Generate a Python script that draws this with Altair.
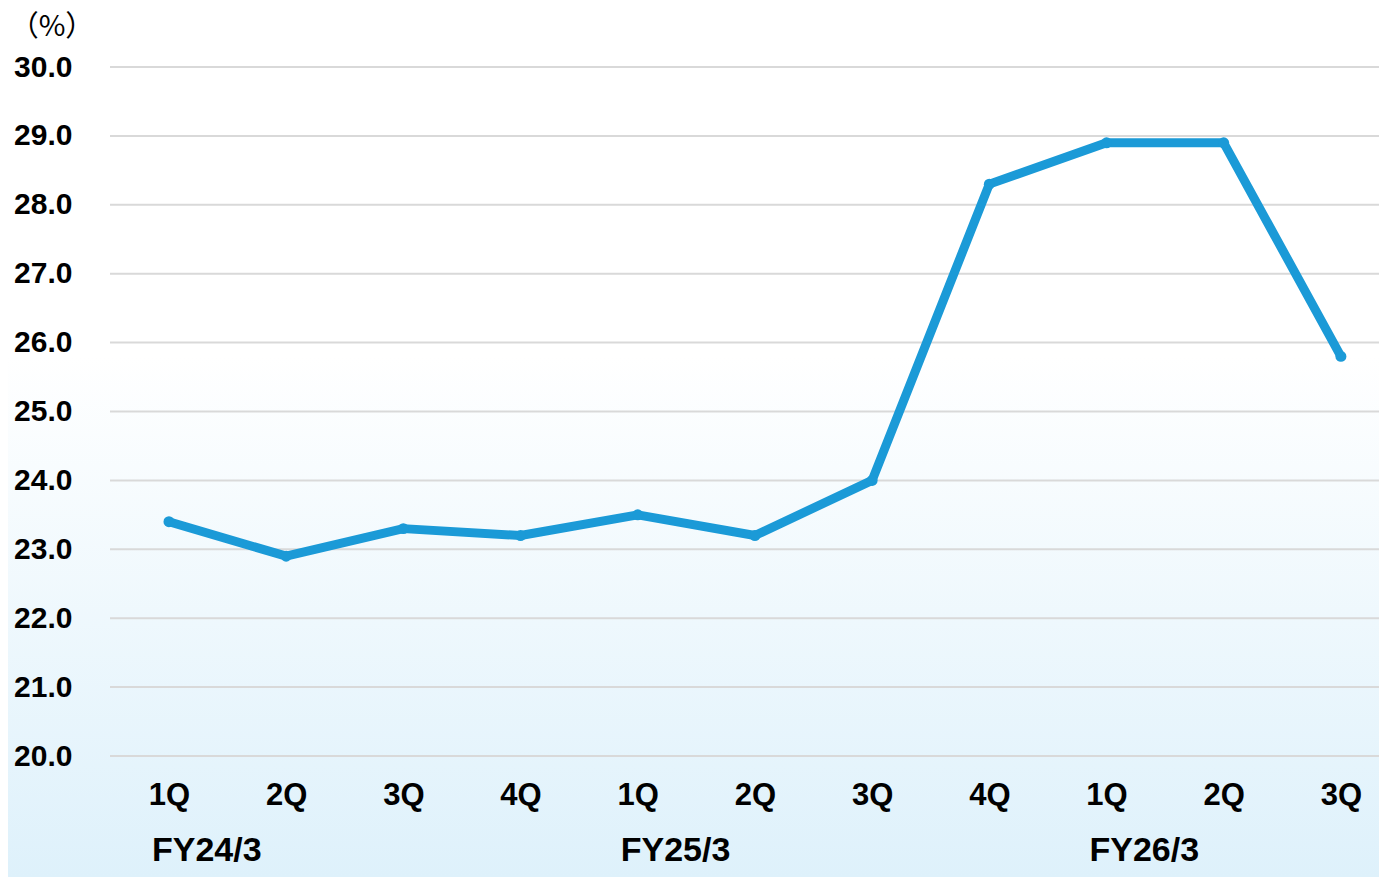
import altair as alt
import pandas as pd

quarters = ["1Q", "2Q", "3Q", "4Q", "1Q", "2Q", "3Q", "4Q", "1Q", "2Q", "3Q"]
values = [23.4, 22.9, 23.3, 23.2, 23.5, 23.2, 24.0, 28.3, 28.9, 28.9, 25.8]
fiscal_years = ["FY24/3", "FY25/3", "FY26/3"]
fy_first_index = [0, 4, 8]
y_ticks = [20, 21, 22, 23, 24, 25, 26, 27, 28, 29, 30]

df = pd.DataFrame({"i": list(range(len(values))), "q": quarters, "v": values})
fy_df = pd.DataFrame({"i": fy_first_index, "fy": fiscal_years})
grid_df = pd.DataFrame({"v": y_ticks})

W, H = 1269, 689
PL, PT, PR, PB = 102, 59, 0, 121
FONT = "Liberation Sans"
BLUE = "#1b9ad7"

label_expr = "[" + ",".join(f"'{q}'" for q in quarters) + "][datum.value]"

xscale = alt.Scale(domain=[-0.503, 10.325], nice=False, zero=False)
yscale = alt.Scale(domain=[20, 30], nice=False, zero=False)

x_axis = alt.Axis(
    values=list(range(len(values))), labelExpr=label_expr, title=None,
    grid=False, ticks=False, domain=False, labelFont=FONT, labelFontSize=31,
    labelFontWeight="bold", labelColor="#000000", labelPadding=24, zindex=1,
)
y_axis = alt.Axis(
    values=y_ticks, format=".1f", title=None, grid=False,
    ticks=False, domain=False, labelFont=FONT, labelFontSize=30,
    labelFontWeight="bold", labelColor="#000000", labelPadding=38, zindex=1,
)

bg = alt.Chart(pd.DataFrame({"a": [0]})).mark_rect(
    fill=alt.Gradient(
        gradient="linear", x1=0, y1=0, x2=0, y2=1,
        stops=[
            alt.GradientStop(offset=0, color="#ffffff"),
            alt.GradientStop(offset=0.40, color="#ffffff"),
            alt.GradientStop(offset=1, color="#def1fb"),
        ],
    )
).encode(
    x=alt.value(-PL), x2=alt.value(W + 20), y=alt.value(-PT), y2=alt.value(H + PB)
)

grid = alt.Chart(grid_df).mark_rule(color="#d9d9d9", strokeWidth=2).encode(
    y=alt.Y("v:Q", scale=yscale, axis=y_axis), x=alt.value(0), x2=alt.value(W + 10)
)

line = alt.Chart(df).mark_line(
    color=BLUE, strokeWidth=9, strokeCap="round", strokeJoin="round"
).encode(
    x=alt.X("i:Q", scale=xscale, axis=x_axis),
    y=alt.Y("v:Q", scale=yscale, axis=y_axis),
)

points = alt.Chart(df).mark_point(
    filled=True, color=BLUE, size=120, opacity=1
).encode(
    x=alt.X("i:Q", scale=xscale, axis=x_axis),
    y=alt.Y("v:Q", scale=yscale, axis=y_axis),
)

fy_text = alt.Chart(fy_df).mark_text(
    font=FONT, fontSize=34, fontWeight="bold", color="#000000", align="left",
    baseline="middle", dx=-17,
).encode(x=alt.X("i:Q", scale=xscale, axis=x_axis), y=alt.value(H + 95), text="fy:N")

unit = alt.Chart(pd.DataFrame({"t": ["（%）"]})).mark_text(
    font="Noto Sans CJK JP", fontSize=29, color="#000000", align="center",
    baseline="middle",
).encode(x=alt.value(-58), y=alt.value(-40), text="t:N")

chart = alt.layer(bg, grid, line, points, fy_text, unit).properties(
    width=W, height=H,
    autosize=alt.AutoSizeParams(type="none"),
    padding={"left": PL, "top": PT, "right": PR, "bottom": PB},
).configure_view(stroke=None).configure(background="#ffffff")

chart.save("out.html", embed_options={"renderer": "svg", "actions": False})
